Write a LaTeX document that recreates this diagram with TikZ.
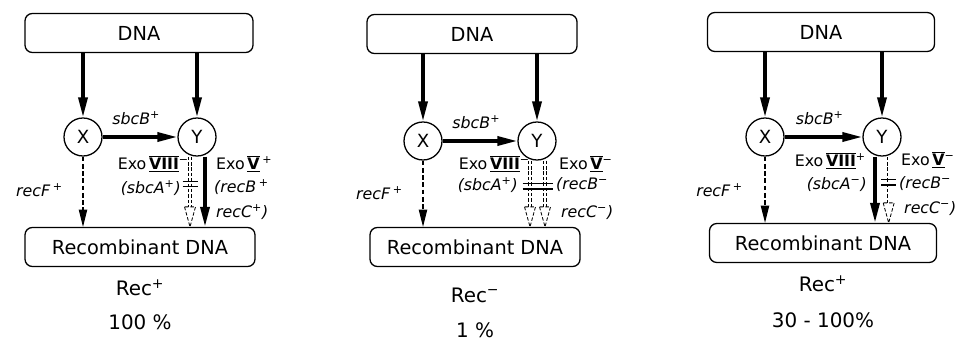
\documentclass[tikz,border=0pt]{standalone}
\usepackage{fontspec}
\setmainfont{DejaVu Sans}
\usetikzlibrary{arrows.meta,calc,positioning}

% barred roman numeral of the exonucleases
\newcommand{\exonum}[1]{$\overline{\underline{\mbox{\bfseries #1}}}$}
% blocked pathway: double dashed shaft, two bars, open dashed head
\newcommand{\blockarr}[2]{%
  \draw[blk, double, double distance=0.06cm] (#1) -- ($(#2)+(0,-20)$);
  \draw[line width=1pt] ($(#1)!0.39!(#2)+(-7.5,-2.6)$) -- ++(15,0);
  \draw[line width=1pt] ($(#1)!0.39!(#2)+(-7.5,2.6)$) -- ++(15,0);
  \draw[blk, line width=0.7pt] ($(#2)+(-5.5,-20)$) -- (#2) -- ($(#2)+(5.5,-20)$) -- cycle;
}

\tikzset{
  box/.style={draw, line width=1.1pt, rounded corners=0.22cm, minimum height=1.17cm,
    inner sep=0pt, font=\fontsize{16.5}{19}\selectfont},
  circ/.style={draw, circle, line width=1.1pt, minimum size=1.14cm, inner sep=0pt,
    font=\fontsize{15.5}{17}\selectfont},
  main/.style={-{Triangle[length=0.6cm,width=0.27cm]}, line width=2.9pt},
  weak/.style={-{Triangle[length=0.52cm,width=0.25cm]}, line width=1pt, dash pattern=on 4pt off 2.2pt},
  blk/.style={line width=0.6pt, dash pattern=on 3pt off 1.6pt},
  gene/.style={font=\fontsize{13.5}{16}\selectfont\itshape, inner sep=0pt},
  enz/.style={font=\fontsize{13.5}{16}\selectfont, inner sep=0pt},
  pheno/.style={font=\fontsize{17}{19}\selectfont, inner sep=0pt}
}

\begin{document}
\begin{tikzpicture}[x=0.03cm, y=-0.03cm]
  \useasboundingbox (0,0) rectangle (962,342);

  % Rec+ 100%
  \node[box, minimum width=6.84cm] (dnaA) at (139,33) {DNA};
  \node[box, minimum width=6.9cm] (recA) at (140,247) {Recombinant DNA};
  \node[circ] (xA) at (83,137) {X};
  \node[circ] (yA) at (197,137) {Y};
  \draw[main] (xA |- dnaA.south) -- (xA);
  \draw[main] (yA |- dnaA.south) -- (yA);
  \draw[main] (xA) -- (yA) node[gene, pos=0.45, above=0.32cm] (sbcBA) {sbcB\textsuperscript{+}};
  \draw[weak] (xA) -- (xA |- recA.north);
  \coordinate (a1) at ([xshift=-0.21cm]yA.south);
  \coordinate (a2) at (a1 |- recA.north);
  \coordinate (b1) at ([xshift=0.24cm]yA.south);
  \coordinate (b2) at (b1 |- recA.north);
  \blockarr{a1}{a2}
  \draw[main] (b1) -- (b2);
  \node[gene, anchor=east] (recFA) at (63,190) {recF\,\textsuperscript{+}};
  \node[enz, anchor=east] (exo8A) at (189,164) {Exo\,\exonum{VIII}\textsuperscript{−}};
  \node[gene, anchor=east] (sbcAA) at (181,188) {(sbcA\textsuperscript{+})};
  \node[enz, anchor=west] (exo5A) at (216,164) {Exo\,\exonum{V}\,\textsuperscript{+}};
  \node[gene, anchor=west] (recBA) at (214,187) {(recB\,\textsuperscript{+}};
  \node[gene, anchor=west] (recCA) at (216,212) {recC\textsuperscript{+})};
  \node[pheno] (phA) at (140,288) {Rec\textsuperscript{+}};
  \node[pheno] (pcA) at (140,322) {100 \%};

  % Rec- 1%
  \node[box, minimum width=6.3cm] (dnaB) at (472,34) {DNA};
  \node[box, minimum width=6.3cm] (recB) at (475,247) {Recombinant DNA};
  \node[circ] (xB) at (423,141) {X};
  \node[circ] (yB) at (537,141) {Y};
  \draw[main] (xB |- dnaB.south) -- (xB);
  \draw[main] (yB |- dnaB.south) -- (yB);
  \draw[main] (xB) -- (yB) node[gene, pos=0.45, above=0.32cm] (sbcBB) {sbcB\textsuperscript{+}};
  \draw[weak] (xB) -- (xB |- recB.north);
  \coordinate (c1) at ([xshift=-0.21cm]yB.south);
  \coordinate (c2) at (c1 |- recB.north);
  \coordinate (d1) at ([xshift=0.24cm]yB.south);
  \coordinate (d2) at (d1 |- recB.north);
  \blockarr{c1}{c2}
  \blockarr{d1}{d2}
  \node[gene, anchor=east] (recFB) at (403,193) {recF\,\textsuperscript{+}};
  \node[enz, anchor=east] (exo8B) at (530,164) {Exo\,\exonum{VIII}\textsuperscript{−}};
  \node[gene, anchor=east] (sbcAB) at (518,185) {(sbcA\textsuperscript{+})};
  \node[enz, anchor=west] (exo5B) at (559,164) {Exo\,\exonum{V}\textsuperscript{−}};
  \node[gene, anchor=west] (recBB) at (556,185) {(recB\textsuperscript{−}};
  \node[gene, anchor=west] (recCB) at (561,213) {recC\textsuperscript{−})};
  \node[pheno] (phB) at (475,295) {Rec\textsuperscript{−}};
  \node[pheno] (pcB) at (475,330) {1 \%};

  % Rec+ 30-100%
  \node[box, minimum width=6.81cm] (dnaC) at (821,32) {DNA};
  \node[box, minimum width=6.81cm] (recC) at (823,243) {Recombinant DNA};
  \node[circ] (xC) at (765,137) {X};
  \node[circ] (yC) at (882,137) {Y};
  \draw[main] (xC |- dnaC.south) -- (xC);
  \draw[main] (yC |- dnaC.south) -- (yC);
  \draw[main] (xC) -- (yC) node[gene, pos=0.45, above=0.32cm] (sbcBC) {sbcB\textsuperscript{+}};
  \draw[weak] (xC) -- (xC |- recC.north);
  \coordinate (e1) at ([xshift=-0.21cm]yC.south);
  \coordinate (e2) at (e1 |- recC.north);
  \coordinate (f1) at ([xshift=0.2cm]yC.south);
  \coordinate (f2) at (f1 |- recC.north);
  \draw[main] (e1) -- (e2);
  \blockarr{f1}{f2}
  \node[gene, anchor=east] (recFC) at (743,190) {recF\,\textsuperscript{+}};
  \node[enz, anchor=east] (exo8C) at (866,161) {Exo\,\exonum{VIII}\textsuperscript{+}};
  \node[gene, anchor=east] (sbcAC) at (867,185) {(sbcA\textsuperscript{−})};
  \node[enz, anchor=west] (exo5C) at (901,160) {Exo\,\exonum{V}\textsuperscript{−}};
  \node[gene, anchor=west] (recBC) at (899,184) {(recB\textsuperscript{−}};
  \node[gene, anchor=west] (recCC) at (904,209) {recC\textsuperscript{−})};
  \node[pheno] (phC) at (823,284) {Rec\textsuperscript{+}};
  \node[pheno] (pcC) at (823,320) {30 - 100\%};
\end{tikzpicture}
\end{document}
